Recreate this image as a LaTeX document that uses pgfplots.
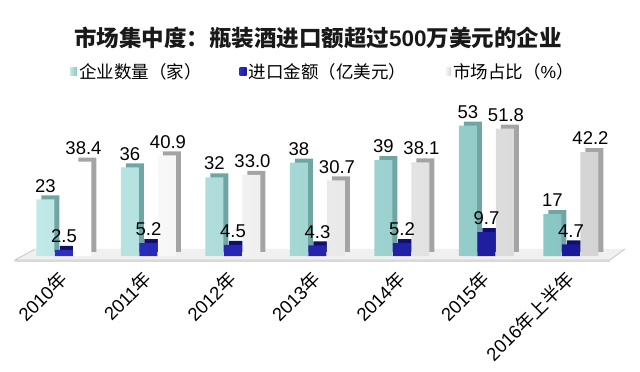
\documentclass[border=0pt]{standalone}
\usepackage{fontspec}
\usepackage{pgfplots}
\usepackage{pgfplotstable}
\pgfplotsset{compat=1.18}
\setmainfont{Liberation Sans}
\newfontfamily\cjk{Noto Sans CJK SC}
\definecolor{tealL}{HTML}{C0E8E6}
\definecolor{tealR}{HTML}{89C6C3}
\definecolor{tealS}{HTML}{6FA6A4}
\definecolor{blueL}{HTML}{2E2EC0}
\definecolor{blueR}{HTML}{1A1A98}
\definecolor{blueS}{HTML}{10106A}
\definecolor{whiteL}{HTML}{FFFFFF}
\definecolor{whiteR}{HTML}{D4D4D4}
\definecolor{whiteS}{HTML}{A4A4A4}
\pgfplotstableread{
x n amt share
0 23 2.5 38.4
1 36 5.2 40.9
2 32 4.5 33.0
3 38 4.3 30.7
4 39 5.2 38.1
5 53 9.7 51.8
6 17 4.7 42.2
}\data
\begin{document}
\begin{tikzpicture}[x=1pt,y=1pt]
\path[use as bounding box] (0,0) rectangle (640,372);
\node[font=\fontsize{22.5}{26}\selectfont\bfseries, text=black!90] at (318,334)
  {{\cjk 市场集中度：瓶装酒进口额超过}500{\cjk 万美元的企业}};
\begin{axis}[
  at={(13.3pt,116pt)}, anchor=south west,
  scale only axis, width=608.4pt, height=147.6pt,
  xmin=-0.6, xmax=6.6, ymin=0, ymax=60,
  clip=false,
  axis y line=none,
  axis x line*=bottom,
  x axis line style={draw=none},
  xtick={-0.22,0.78,1.78,2.78,3.78,4.78,5.78},
  xtick style={draw=none},
  xticklabels={2010{\cjk 年},2011{\cjk 年},2012{\cjk 年},2013{\cjk 年},2014{\cjk 年},2015{\cjk 年},2016{\cjk 年上半年}},
  xticklabel style={rotate=45, anchor=north east, font=\fontsize{18.5}{21}\selectfont, inner sep=1pt, yshift=-17pt},
  /pgf/number format/assume math mode=true,
  every node near coord/.append style={font=\fontsize{18.5}{21}\selectfont, anchor=south, inner sep=0pt, yshift=7pt, text=black},
  legend style={at={(0.509,1.247)}, anchor=center, draw=none, fill=none,
    legend columns=-1, font=\fontsize{17.5}{20}\selectfont,
    /tikz/every even column/.append style={column sep=36pt},
    legend cell align=left},
  legend image code/.code={\path[#1, draw=none] (0pt,-4pt) rectangle (7pt,4pt);},
]
% floor
\fill[gray!12] (axis cs:-0.58,-1.6) -- (axis cs:6.46,-1.6) -- (axis cs:6.64,2.85) -- (axis cs:-0.34,2.85) -- cycle;
\draw[gray!45, line width=0.8pt] (axis cs:-0.34,2.85) -- (axis cs:-0.58,-1.6) -- (axis cs:6.46,-1.6) -- (axis cs:6.64,2.85);
\fill[gray!30] (axis cs:-0.58,-1.6) rectangle (axis cs:6.46,-2.6);
% side/top shadows
\addplot[ybar, bar width=18pt, bar shift=-18.5pt, fill=tealS, draw=none, xshift=5pt, yshift=4pt, forget plot] table[x=x,y=n]{\data};
\addplot[ybar, bar width=18pt, bar shift=0pt, fill=blueS, draw=none, xshift=5pt, yshift=4pt, forget plot] table[x=x,y=amt]{\data};
\addplot[ybar, bar width=18pt, bar shift=18.5pt, fill=whiteS, draw=none, xshift=5pt, yshift=4pt, forget plot] table[x=x,y=share]{\data};
% fronts
\addplot[ybar, bar width=18pt, bar shift=-18.5pt, left color=tealL, right color=tealR, draw=none,
  nodes near coords={\pgfmathprintnumber[fixed,precision=0]{\pgfplotspointmeta}},
  nodes near coords style={xshift=-18.5pt}] table[x=x,y=n]{\data};
\addlegendentry{{\cjk 企业数量（家）}}
\addplot[ybar, bar width=18pt, bar shift=0pt, left color=blueL, right color=blueR, draw=none,
  nodes near coords={\pgfmathprintnumber[fixed,fixed zerofill,precision=1]{\pgfplotspointmeta}}] table[x=x,y=amt]{\data};
\addlegendentry{{\cjk 进口金额（亿美元）}}
\addplot[ybar, bar width=18pt, bar shift=18.5pt, left color=whiteL, right color=whiteR, draw=none,
  nodes near coords={\pgfmathprintnumber[fixed,fixed zerofill,precision=1]{\pgfplotspointmeta}},
  nodes near coords style={xshift=19.5pt}] table[x=x,y=share]{\data};
\addlegendentry{{\cjk 市场占比（}\%{\cjk ）}}
\end{axis}
\end{tikzpicture}
\end{document}
